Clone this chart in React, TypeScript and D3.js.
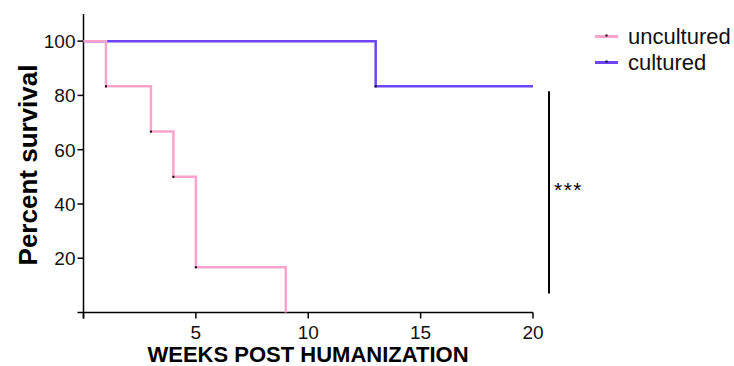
import React from "react";
import * as d3 from "d3";

// survival steps: [week, percent]
const unculturedSteps: [number, number][] = [
  [0, 100], [1, 83.33], [3, 66.67], [4, 50], [5, 16.67], [9, 0],
];
const culturedSteps: [number, number][] = [
  [0, 100], [13, 83.33], [20, 83.33],
];
// small black tick marks at each drop
const unculturedMarks: [number, number][] = [
  [1, 83.33], [3, 66.67], [4, 50], [5, 16.67],
];
const culturedMarks: [number, number][] = [[13, 83.33]];
const xTicks = [0, 5, 10, 15, 20];
const yTicks = [0, 20, 40, 60, 80, 100];
const seriesNames = ["uncultured", "cultured"];
const seriesColors = ["#ffa3cc", "#6c45f7"];

const W = 734;
const H = 366;

export default function App() {
  const x = d3.scaleLinear().domain([0, 20]).range([83.5, 533]);
  const y = d3.scaleLinear().domain([0, 110]).range([312.5, 14]);

  const line = d3
    .line<[number, number]>()
    .x((d) => x(d[0]))
    .y((d) => y(d[1]))
    .curve(d3.curveStepAfter);

  const font = "'Liberation Sans', Arial, sans-serif";
  // draw cultured first so uncultured sits on top
  const order = [1, 0];
  const steps = [unculturedSteps, culturedSteps];
  const marks = [unculturedMarks, culturedMarks];

  return (
    <svg width={W} height={H} style={{ position: "absolute", left: 0, top: 0 }}>
      {/* axes */}
      <line x1={x(0)} x2={x(0)} y1={y(110)} y2={y(0) + 6} stroke="#000" strokeWidth={1.5} />
      <line x1={x(0)} x2={x(20)} y1={y(0)} y2={y(0)} stroke="#000" strokeWidth={1.5} />
      {yTicks.map((t) => (
        <g key={"y" + t}>
          <line x1={x(0) - 6} x2={x(0)} y1={y(t)} y2={y(t)} stroke="#000" strokeWidth={1.5} />
          {t > 0 && (
            <text x={x(0) - 8} y={y(t)} dy="0.36em" textAnchor="end" fontSize={19} fontFamily={font} fill="#111">
              {t}
            </text>
          )}
        </g>
      ))}
      {xTicks.map((t) => (
        <g key={"x" + t}>
          <line x1={x(t)} x2={x(t)} y1={y(0)} y2={y(0) + 6} stroke="#000" strokeWidth={1.5} />
          {t > 0 && (
            <text x={x(t)} y={y(0) + 26} textAnchor="middle" fontSize={19} fontFamily={font} fill="#111">
              {t}
            </text>
          )}
        </g>
      ))}
      <text
        transform={`translate(37,165) rotate(-90)`}
        textAnchor="middle"
        fontSize={26}
        fontWeight="bold"
        fontFamily={font}
      >
        Percent survival
      </text>
      <text x={308} y={362} textAnchor="middle" fontSize={22} fontWeight="bold" fontFamily={font}>
        WEEKS POST HUMANIZATION
      </text>

      {/* curves */}
      {order.map((i) => (
        <g key={seriesNames[i]}>
          <path d={line(steps[i]) || ""} fill="none" stroke={seriesColors[i]} strokeWidth={2.5} />
          {marks[i].map((d, j) => (
            <rect key={j} x={x(d[0]) - 1} y={y(d[1]) - 1} width={2} height={2} fill="#000" />
          ))}
        </g>
      ))}

      {/* significance */}
      <line x1={549} x2={549} y1={y(83.33) + 5} y2={y(7)} stroke="#000" strokeWidth={2} />
      <text x={554} y={197} fontSize={21} letterSpacing={1.5} fontFamily={font}>***</text>

      {/* legend */}
      {seriesNames.map((n, i) => (
        <g key={n} transform={`translate(595,${36.5 + i * 26})`}>
          <line x1={0} x2={23} y1={0} y2={0} stroke={seriesColors[i]} strokeWidth={3} />
          <rect x={10.5} y={-2} width={2} height={2} fill="#000" />
          <text x={33} y={0} dy="0.35em" fontSize={22} fontFamily={font} fill="#111">
            {n}
          </text>
        </g>
      ))}
    </svg>
  );
}
